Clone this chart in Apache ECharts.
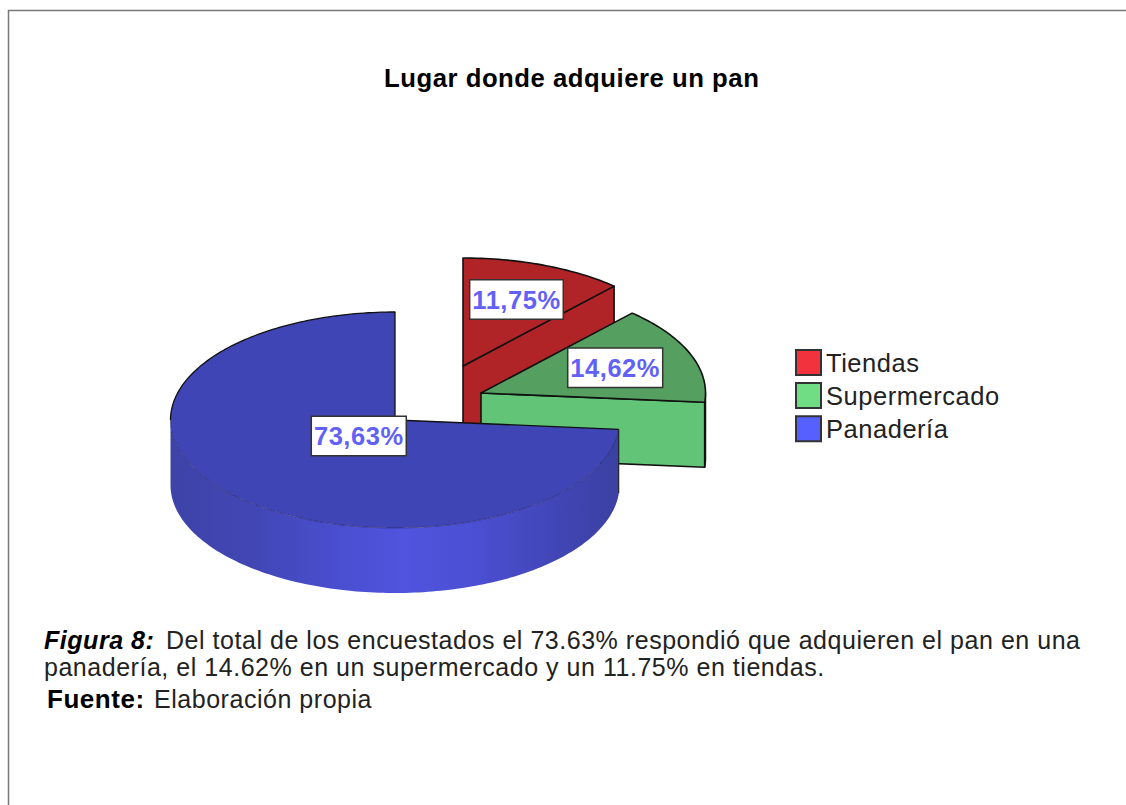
<!DOCTYPE html>
<html>
<head>
<meta charset="utf-8">
<style>
html,body{margin:0;padding:0;background:#fff;}
#chart{width:1126px;height:805px;}
#chart svg text{letter-spacing:.53px;}
</style>
<script src="https://cdn.jsdelivr.net/npm/echarts@6/dist/echarts.min.js"></script>
</head>
<body>
<div id="chart"></div>
<script>
var categories = ['Tiendas', 'Supermercado', 'Panadería'];
var shares = [11.75, 14.62, 73.63];
var chartTitle = 'Lugar donde adquiere un pan';
var captionHead = 'Figura 8:';
var captionLine1 = 'Del total de los encuestados el 73.63% respondió que adquieren el pan en una';
var captionLine2 = 'panadería, el 14.62% en un supermercado y un 11.75% en tiendas.';
var sourceHead = 'Fuente:';
var sourceText = 'Elaboración propia';

var FONT = '"Liberation Sans", Arial, sans-serif';
var RX = 224.5, RY = 108;
var total = shares.reduce(function (a, b) { return a + b; }, 0);

var look = [
  { cx: 463, cy: 366, depth: 70, labelR: 0.66, legend: '#f2323c', top: '#b02428', face: '#b02428', side: '#b02428' },
  { cx: 481, cy: 393, depth: 65, labelR: 0.642, legend: '#70dd85', top: '#55a060', face: '#62c477', side: '#62c477' },
  { cx: 395, cy: 420, depth: 65, labelR: 0.219, legend: '#5560ff', top: '#4045b5', face: '#4045b5', side: null }
];
var EDGE = '#111';

function pt(l, a, r, dy) {
  return [l.cx + RX * r * Math.sin(a), l.cy - RY * r * Math.cos(a) + (dy || 0)];
}
function arc(l, a0, a1, dy) {
  var n = Math.max(2, Math.ceil(Math.abs(a1 - a0) / 0.02)), out = [];
  for (var i = 0; i <= n; i++) out.push(pt(l, a0 + (a1 - a0) * i / n, 1, dy));
  return out;
}
function poly(points, fill, stroke, width) {
  return { type: 'polygon', shape: { points: points },
    style: { fill: fill, stroke: stroke || null, lineWidth: width || 0, lineJoin: 'round' } };
}
function line(points, stroke, width) {
  return { type: 'polyline', shape: { points: points },
    style: { fill: null, stroke: stroke, lineWidth: width, lineJoin: 'round' } };
}
var sideGradient = { type: 'linear', x: 0, y: 0, x2: 1, y2: 0, colorStops: [
  { offset: 0, color: '#3e43a8' }, { offset: 0.18, color: '#4146b4' }, { offset: 0.38, color: '#4a4ed0' },
  { offset: 0.52, color: '#5054de' }, { offset: 0.68, color: '#4b4fd2' }, { offset: 0.88, color: '#4045b3' },
  { offset: 1, color: '#3b40a2' } ] };

function drawSlice(idx) {
  return function () {
    var l = look[idx], before = 0, kids = [];
    for (var i = 0; i < idx; i++) before += shares[i];
    var a0 = before / total * 2 * Math.PI, a1 = (before + shares[idx]) / total * 2 * Math.PI;
    var apex = pt(l, 0, 0), apexLow = [apex[0], apex[1] + l.depth];

    // outer wall, only where it faces the viewer
    var s0 = Math.max(a0, Math.PI / 2), s1 = Math.min(a1, 3 * Math.PI / 2);
    if (s1 > s0) {
      var wall = arc(l, s0, s1, 0).concat(arc(l, s1, s0, l.depth));
      kids.push(poly(wall, l.side || sideGradient, l.side ? EDGE : null, l.side ? 1.5 : 0));
    }
    // cut wall facing the viewer
    if (a1 < Math.PI) {
      var p = pt(l, a1, 1);
      kids.push(poly([apex, p, [p[0], p[1] + l.depth], apexLow], l.face, EDGE, 1.6));
    }
    // top face
    var face = [apex].concat(arc(l, a0, a1, 0));
    kids.push(poly(face, l.top, l.side ? EDGE : null, l.side ? 1.6 : 0));
    if (!l.side) {
      // large slice: crisp back rim and cut lines, faint front rim
      var q = pt(l, a0, 1);
      kids.push(line(arc(l, a0, 3 * Math.PI / 2, 0), 'rgba(20,20,70,.45)', 1));
      kids.push(line(arc(l, 3 * Math.PI / 2, a1, 0).concat([apex, q]), EDGE, 1.3));
      kids.push(line([q, [q[0], q[1] + l.depth - 1]], '#222', 1.2));
    }
    // percentage label
    var mid = (a0 + a1) / 2, c = pt(l, mid, l.labelR);
    kids.push({ type: 'text', z2: 10, style: {
      text: shares[idx].toFixed(2).replace('.', ',') + '%',
      x: c[0], y: c[1], align: 'center', verticalAlign: 'middle',
      font: 'bold 25.5px ' + FONT, fill: '#6161f7',
      backgroundColor: '#fff', borderColor: '#333', borderWidth: 1.5,
      padding: [6, 3.5, 6, 3.5]
    } });
    return { type: 'group', children: kids };
  };
}

var series = categories.map(function (name, i) {
  return { name: name, type: 'custom', coordinateSystem: 'none',
    data: [shares[i]], renderItem: drawSlice(i), silent: true, animation: false,
    itemStyle: { color: look[i].legend, borderColor: '#333', borderWidth: 1.5 } };
});

var chart = echarts.init(document.getElementById('chart'), null, { renderer: 'svg', width: 1126, height: 805 });
chart.setOption({
  animation: false,
  backgroundColor: '#fff',
  title: [
    { text: chartTitle, left: 384, top: 65, padding: 0, textStyle: { fontFamily: FONT, fontSize: 25.7, fontWeight: 'bold', color: '#000' } },
    { text: captionHead, left: 44, top: 627, padding: 0, textStyle: { fontFamily: FONT, fontSize: 25, fontWeight: 'bold', fontStyle: 'italic', color: '#000' } },
    { text: captionLine1, left: 166, top: 627, padding: 0, textStyle: { fontFamily: FONT, fontSize: 25, fontWeight: 'normal', color: '#222' } },
    { text: captionLine2, left: 44, top: 654, padding: 0, textStyle: { fontFamily: FONT, fontSize: 25, fontWeight: 'normal', color: '#222' } },
    { text: sourceHead, left: 47, top: 686, padding: 0, textStyle: { fontFamily: FONT, fontSize: 26, fontWeight: 'bold', color: '#000' } },
    { text: sourceText, left: 154, top: 686, padding: 0, textStyle: { fontFamily: FONT, fontSize: 25, fontWeight: 'normal', color: '#222' } }
  ],
  legend: {
    data: categories, orient: 'vertical', left: 795, top: 347, padding: 0,
    itemWidth: 25, itemHeight: 25, itemGap: 2.1, icon: 'rect', selectedMode: false,
    textStyle: { fontFamily: FONT, fontSize: 25.5, lineHeight: 25, color: '#222', padding: [6, 0, 0, 0] }
  },
  graphic: [{ type: 'polyline', silent: true,
    shape: { points: [[8.5, 805], [8.5, 10.5], [1126, 10.5]] },
    style: { fill: null, stroke: '#777', lineWidth: 1.5 } }],
  series: series
});
</script>
</body>
</html>
